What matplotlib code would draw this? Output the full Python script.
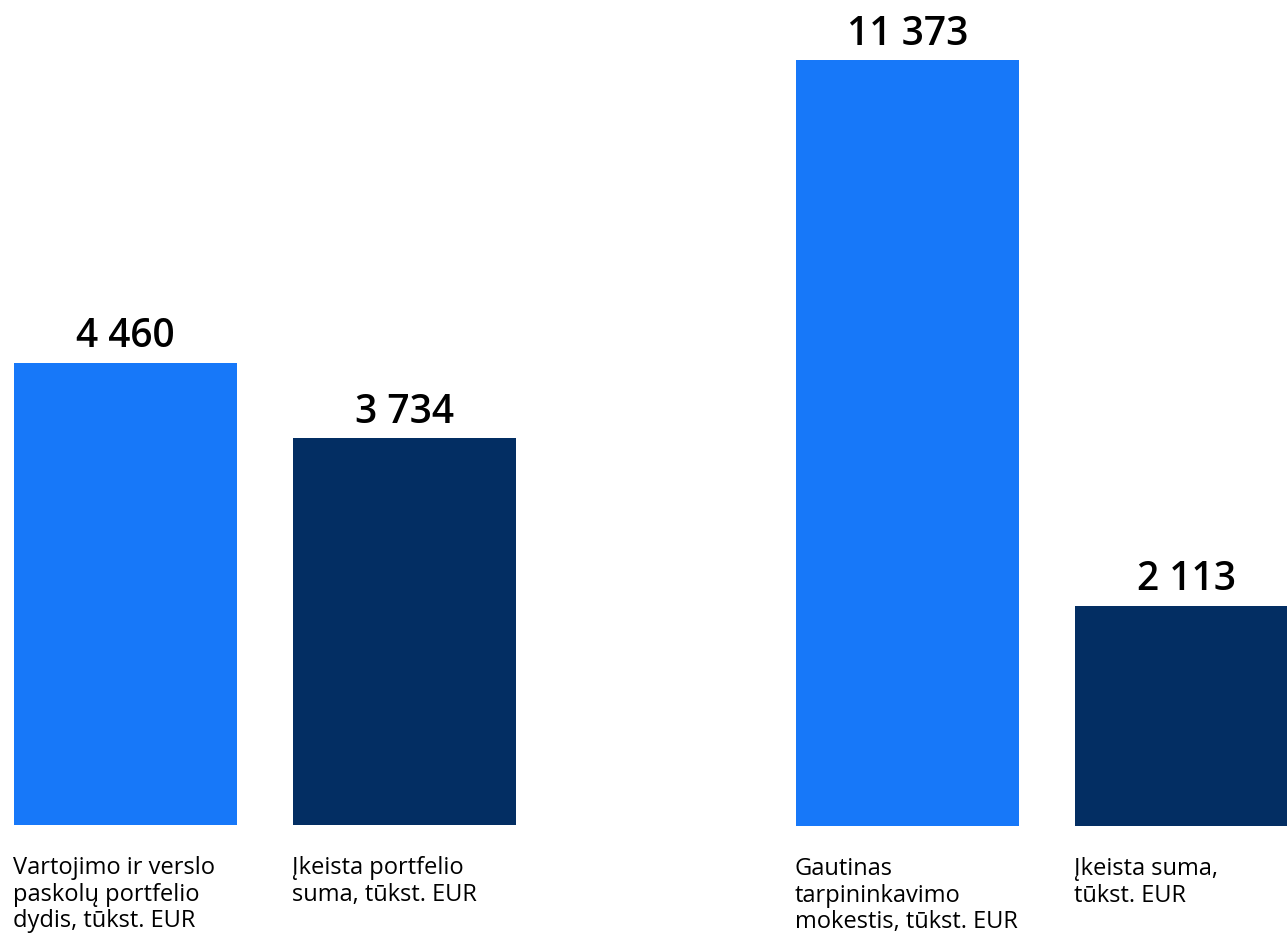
import matplotlib.pyplot as plt

plt.rcParams['font.family'] = ['Open Sans', 'DejaVu Sans']

# left pair: portfolio, right pair: fee
left_values = [4460, 3734]
left_labels = ['Vartojimo ir verslo\npaskolų portfelio\ndydis, tūkst. EUR',
               'Įkeista portfelio\nsuma, tūkst. EUR']
right_values = [11373, 2113]
right_labels = ['Gautinas\ntarpininkavimo\nmokestis, tūkst. EUR',
                'Įkeista suma,\ntūkst. EUR']
value_texts_left = ['4 460', '3 734']
value_texts_right = ['11 373', '2 113']

colors = ['#1778F9', '#032E63']

W, H = 1287, 936
fig = plt.figure(figsize=(W / 100, H / 100), dpi=100)


def px_axes(x0, x1, y_top, y_bottom):
    return fig.add_axes([x0 / W, (H - y_bottom) / H, (x1 - x0) / W, (y_bottom - y_top) / H])


def draw_group(ax, values, texts, labels, ymin, ymax):
    x = [0, 1]
    ax.bar(x, [v - ymin for v in values], bottom=ymin, width=0.8, color=colors)
    ax.set_xlim(-0.4, 1.4)
    ax.set_ylim(ymin, ymax)
    for xi, v, t in zip(x, values, texts):
        ax.annotate(t, (xi, v), xytext=(0, 4), textcoords='offset points',
                    ha='center', va='bottom', fontsize=28, fontweight='semibold')
    for xi, lab in zip(x, labels):
        ax.annotate(lab, (xi - 0.4, ymin), xytext=(-1, -22.5), textcoords='offset points',
                    ha='left', va='top', fontsize=17, linespacing=1.13,
                    annotation_clip=False)
    ax.axis('off')


ax1 = px_axes(14, 516, 0, 825)
draw_group(ax1, left_values, value_texts_left, left_labels, 0, 7963)

ax2 = px_axes(796, 1298, 0, 826)
draw_group(ax2, right_values, value_texts_right, right_labels, -1618, 12392)

fig.savefig('out.png', dpi=100)
